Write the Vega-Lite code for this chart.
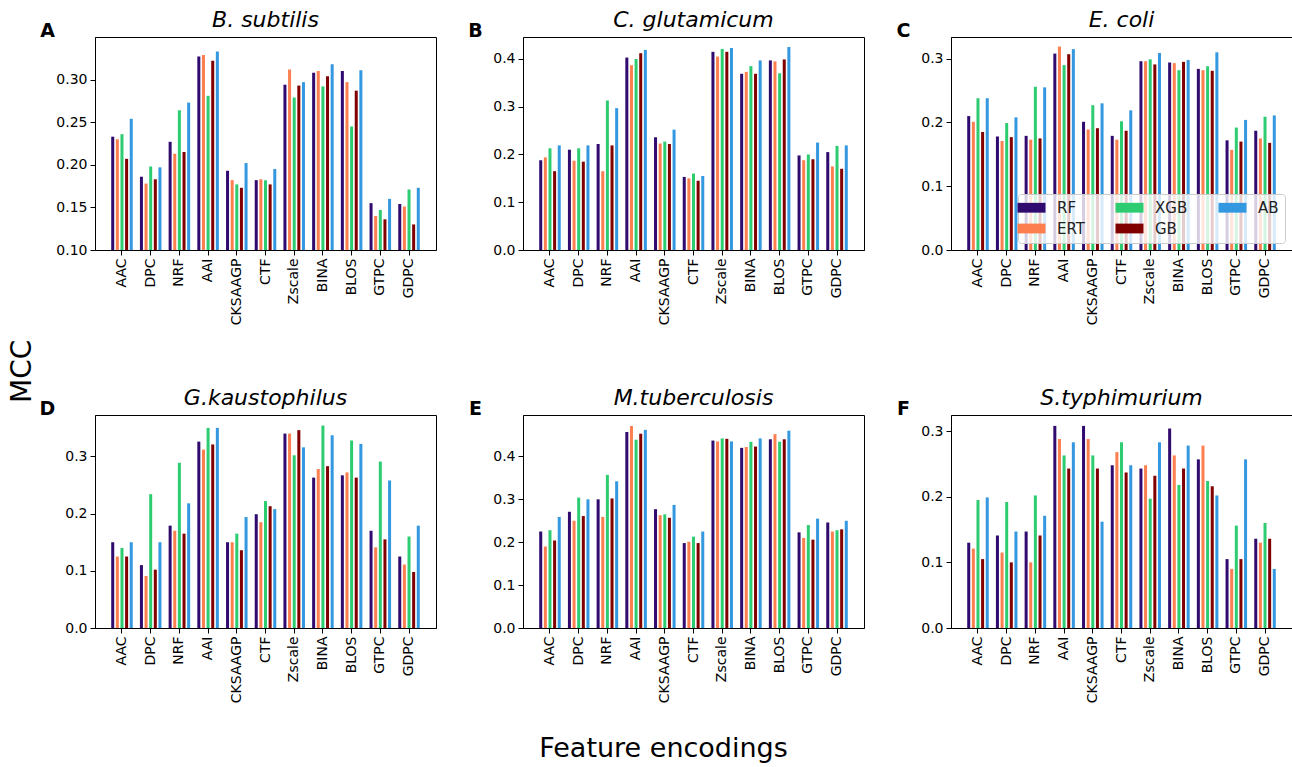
{
"$schema":"https://vega.github.io/schema/vega-lite/v6.json",
"padding":{"left":8,"top":8,"right":0,"bottom":4},
"background":"white",
"title":{"text":"MCC","orient":"left","anchor":"middle","fontSize":28,"fontStyle":"normal","fontWeight":"normal","offset":2,"dx":14},
"data":{"values":[
{"org":"A","feat":"AAC","model":"RF","mcc":0.233},{"org":"A","feat":"AAC","model":"ERT","mcc":0.230},{"org":"A","feat":"AAC","model":"XGB","mcc":0.236},{"org":"A","feat":"AAC","model":"GB","mcc":0.207},{"org":"A","feat":"AAC","model":"AB","mcc":0.254},
{"org":"A","feat":"DPC","model":"RF","mcc":0.186},{"org":"A","feat":"DPC","model":"ERT","mcc":0.178},{"org":"A","feat":"DPC","model":"XGB","mcc":0.198},{"org":"A","feat":"DPC","model":"GB","mcc":0.183},{"org":"A","feat":"DPC","model":"AB","mcc":0.197},
{"org":"A","feat":"NRF","model":"RF","mcc":0.227},{"org":"A","feat":"NRF","model":"ERT","mcc":0.213},{"org":"A","feat":"NRF","model":"XGB","mcc":0.264},{"org":"A","feat":"NRF","model":"GB","mcc":0.215},{"org":"A","feat":"NRF","model":"AB","mcc":0.273},
{"org":"A","feat":"AAI","model":"RF","mcc":0.327},{"org":"A","feat":"AAI","model":"ERT","mcc":0.329},{"org":"A","feat":"AAI","model":"XGB","mcc":0.281},{"org":"A","feat":"AAI","model":"GB","mcc":0.322},{"org":"A","feat":"AAI","model":"AB","mcc":0.333},
{"org":"A","feat":"CKSAAGP","model":"RF","mcc":0.193},{"org":"A","feat":"CKSAAGP","model":"ERT","mcc":0.182},{"org":"A","feat":"CKSAAGP","model":"XGB","mcc":0.177},{"org":"A","feat":"CKSAAGP","model":"GB","mcc":0.173},{"org":"A","feat":"CKSAAGP","model":"AB","mcc":0.202},
{"org":"A","feat":"CTF","model":"RF","mcc":0.182},{"org":"A","feat":"CTF","model":"ERT","mcc":0.183},{"org":"A","feat":"CTF","model":"XGB","mcc":0.182},{"org":"A","feat":"CTF","model":"GB","mcc":0.177},{"org":"A","feat":"CTF","model":"AB","mcc":0.195},
{"org":"A","feat":"Zscale","model":"RF","mcc":0.294},{"org":"A","feat":"Zscale","model":"ERT","mcc":0.312},{"org":"A","feat":"Zscale","model":"XGB","mcc":0.279},{"org":"A","feat":"Zscale","model":"GB","mcc":0.293},{"org":"A","feat":"Zscale","model":"AB","mcc":0.297},
{"org":"A","feat":"BINA","model":"RF","mcc":0.308},{"org":"A","feat":"BINA","model":"ERT","mcc":0.310},{"org":"A","feat":"BINA","model":"XGB","mcc":0.292},{"org":"A","feat":"BINA","model":"GB","mcc":0.304},{"org":"A","feat":"BINA","model":"AB","mcc":0.318},
{"org":"A","feat":"BLOS","model":"RF","mcc":0.310},{"org":"A","feat":"BLOS","model":"ERT","mcc":0.297},{"org":"A","feat":"BLOS","model":"XGB","mcc":0.245},{"org":"A","feat":"BLOS","model":"GB","mcc":0.287},{"org":"A","feat":"BLOS","model":"AB","mcc":0.311},
{"org":"A","feat":"GTPC","model":"RF","mcc":0.155},{"org":"A","feat":"GTPC","model":"ERT","mcc":0.140},{"org":"A","feat":"GTPC","model":"XGB","mcc":0.147},{"org":"A","feat":"GTPC","model":"GB","mcc":0.136},{"org":"A","feat":"GTPC","model":"AB","mcc":0.160},
{"org":"A","feat":"GDPC","model":"RF","mcc":0.154},{"org":"A","feat":"GDPC","model":"ERT","mcc":0.151},{"org":"A","feat":"GDPC","model":"XGB","mcc":0.171},{"org":"A","feat":"GDPC","model":"GB","mcc":0.130},{"org":"A","feat":"GDPC","model":"AB","mcc":0.173},
{"org":"B","feat":"AAC","model":"RF","mcc":0.188},{"org":"B","feat":"AAC","model":"ERT","mcc":0.194},{"org":"B","feat":"AAC","model":"XGB","mcc":0.213},{"org":"B","feat":"AAC","model":"GB","mcc":0.165},{"org":"B","feat":"AAC","model":"AB","mcc":0.219},
{"org":"B","feat":"DPC","model":"RF","mcc":0.210},{"org":"B","feat":"DPC","model":"ERT","mcc":0.187},{"org":"B","feat":"DPC","model":"XGB","mcc":0.213},{"org":"B","feat":"DPC","model":"GB","mcc":0.185},{"org":"B","feat":"DPC","model":"AB","mcc":0.219},
{"org":"B","feat":"NRF","model":"RF","mcc":0.222},{"org":"B","feat":"NRF","model":"ERT","mcc":0.165},{"org":"B","feat":"NRF","model":"XGB","mcc":0.313},{"org":"B","feat":"NRF","model":"GB","mcc":0.219},{"org":"B","feat":"NRF","model":"AB","mcc":0.297},
{"org":"B","feat":"AAI","model":"RF","mcc":0.403},{"org":"B","feat":"AAI","model":"ERT","mcc":0.387},{"org":"B","feat":"AAI","model":"XGB","mcc":0.400},{"org":"B","feat":"AAI","model":"GB","mcc":0.412},{"org":"B","feat":"AAI","model":"AB","mcc":0.419},
{"org":"B","feat":"CKSAAGP","model":"RF","mcc":0.236},{"org":"B","feat":"CKSAAGP","model":"ERT","mcc":0.223},{"org":"B","feat":"CKSAAGP","model":"XGB","mcc":0.227},{"org":"B","feat":"CKSAAGP","model":"GB","mcc":0.222},{"org":"B","feat":"CKSAAGP","model":"AB","mcc":0.252},
{"org":"B","feat":"CTF","model":"RF","mcc":0.153},{"org":"B","feat":"CTF","model":"ERT","mcc":0.150},{"org":"B","feat":"CTF","model":"XGB","mcc":0.160},{"org":"B","feat":"CTF","model":"GB","mcc":0.145},{"org":"B","feat":"CTF","model":"AB","mcc":0.155},
{"org":"B","feat":"Zscale","model":"RF","mcc":0.415},{"org":"B","feat":"Zscale","model":"ERT","mcc":0.405},{"org":"B","feat":"Zscale","model":"XGB","mcc":0.421},{"org":"B","feat":"Zscale","model":"GB","mcc":0.415},{"org":"B","feat":"Zscale","model":"AB","mcc":0.423},
{"org":"B","feat":"BINA","model":"RF","mcc":0.369},{"org":"B","feat":"BINA","model":"ERT","mcc":0.373},{"org":"B","feat":"BINA","model":"XGB","mcc":0.385},{"org":"B","feat":"BINA","model":"GB","mcc":0.369},{"org":"B","feat":"BINA","model":"AB","mcc":0.397},
{"org":"B","feat":"BLOS","model":"RF","mcc":0.397},{"org":"B","feat":"BLOS","model":"ERT","mcc":0.395},{"org":"B","feat":"BLOS","model":"XGB","mcc":0.370},{"org":"B","feat":"BLOS","model":"GB","mcc":0.399},{"org":"B","feat":"BLOS","model":"AB","mcc":0.425},
{"org":"B","feat":"GTPC","model":"RF","mcc":0.198},{"org":"B","feat":"GTPC","model":"ERT","mcc":0.188},{"org":"B","feat":"GTPC","model":"XGB","mcc":0.200},{"org":"B","feat":"GTPC","model":"GB","mcc":0.190},{"org":"B","feat":"GTPC","model":"AB","mcc":0.225},
{"org":"B","feat":"GDPC","model":"RF","mcc":0.205},{"org":"B","feat":"GDPC","model":"ERT","mcc":0.175},{"org":"B","feat":"GDPC","model":"XGB","mcc":0.218},{"org":"B","feat":"GDPC","model":"GB","mcc":0.170},{"org":"B","feat":"GDPC","model":"AB","mcc":0.219},
{"org":"C","feat":"AAC","model":"RF","mcc":0.210},{"org":"C","feat":"AAC","model":"ERT","mcc":0.201},{"org":"C","feat":"AAC","model":"XGB","mcc":0.238},{"org":"C","feat":"AAC","model":"GB","mcc":0.185},{"org":"C","feat":"AAC","model":"AB","mcc":0.238},
{"org":"C","feat":"DPC","model":"RF","mcc":0.178},{"org":"C","feat":"DPC","model":"ERT","mcc":0.171},{"org":"C","feat":"DPC","model":"XGB","mcc":0.199},{"org":"C","feat":"DPC","model":"GB","mcc":0.177},{"org":"C","feat":"DPC","model":"AB","mcc":0.208},
{"org":"C","feat":"NRF","model":"RF","mcc":0.179},{"org":"C","feat":"NRF","model":"ERT","mcc":0.173},{"org":"C","feat":"NRF","model":"XGB","mcc":0.256},{"org":"C","feat":"NRF","model":"GB","mcc":0.175},{"org":"C","feat":"NRF","model":"AB","mcc":0.255},
{"org":"C","feat":"AAI","model":"RF","mcc":0.308},{"org":"C","feat":"AAI","model":"ERT","mcc":0.319},{"org":"C","feat":"AAI","model":"XGB","mcc":0.290},{"org":"C","feat":"AAI","model":"GB","mcc":0.307},{"org":"C","feat":"AAI","model":"AB","mcc":0.315},
{"org":"C","feat":"CKSAAGP","model":"RF","mcc":0.201},{"org":"C","feat":"CKSAAGP","model":"ERT","mcc":0.189},{"org":"C","feat":"CKSAAGP","model":"XGB","mcc":0.227},{"org":"C","feat":"CKSAAGP","model":"GB","mcc":0.191},{"org":"C","feat":"CKSAAGP","model":"AB","mcc":0.230},
{"org":"C","feat":"CTF","model":"RF","mcc":0.179},{"org":"C","feat":"CTF","model":"ERT","mcc":0.173},{"org":"C","feat":"CTF","model":"XGB","mcc":0.202},{"org":"C","feat":"CTF","model":"GB","mcc":0.187},{"org":"C","feat":"CTF","model":"AB","mcc":0.219},
{"org":"C","feat":"Zscale","model":"RF","mcc":0.296},{"org":"C","feat":"Zscale","model":"ERT","mcc":0.296},{"org":"C","feat":"Zscale","model":"XGB","mcc":0.299},{"org":"C","feat":"Zscale","model":"GB","mcc":0.291},{"org":"C","feat":"Zscale","model":"AB","mcc":0.309},
{"org":"C","feat":"BINA","model":"RF","mcc":0.294},{"org":"C","feat":"BINA","model":"ERT","mcc":0.293},{"org":"C","feat":"BINA","model":"XGB","mcc":0.282},{"org":"C","feat":"BINA","model":"GB","mcc":0.295},{"org":"C","feat":"BINA","model":"AB","mcc":0.298},
{"org":"C","feat":"BLOS","model":"RF","mcc":0.284},{"org":"C","feat":"BLOS","model":"ERT","mcc":0.282},{"org":"C","feat":"BLOS","model":"XGB","mcc":0.288},{"org":"C","feat":"BLOS","model":"GB","mcc":0.281},{"org":"C","feat":"BLOS","model":"AB","mcc":0.310},
{"org":"C","feat":"GTPC","model":"RF","mcc":0.172},{"org":"C","feat":"GTPC","model":"ERT","mcc":0.157},{"org":"C","feat":"GTPC","model":"XGB","mcc":0.192},{"org":"C","feat":"GTPC","model":"GB","mcc":0.170},{"org":"C","feat":"GTPC","model":"AB","mcc":0.204},
{"org":"C","feat":"GDPC","model":"RF","mcc":0.187},{"org":"C","feat":"GDPC","model":"ERT","mcc":0.175},{"org":"C","feat":"GDPC","model":"XGB","mcc":0.209},{"org":"C","feat":"GDPC","model":"GB","mcc":0.168},{"org":"C","feat":"GDPC","model":"AB","mcc":0.211},
{"org":"D","feat":"AAC","model":"RF","mcc":0.150},{"org":"D","feat":"AAC","model":"ERT","mcc":0.125},{"org":"D","feat":"AAC","model":"XGB","mcc":0.140},{"org":"D","feat":"AAC","model":"GB","mcc":0.125},{"org":"D","feat":"AAC","model":"AB","mcc":0.150},
{"org":"D","feat":"DPC","model":"RF","mcc":0.110},{"org":"D","feat":"DPC","model":"ERT","mcc":0.091},{"org":"D","feat":"DPC","model":"XGB","mcc":0.234},{"org":"D","feat":"DPC","model":"GB","mcc":0.102},{"org":"D","feat":"DPC","model":"AB","mcc":0.150},
{"org":"D","feat":"NRF","model":"RF","mcc":0.179},{"org":"D","feat":"NRF","model":"ERT","mcc":0.170},{"org":"D","feat":"NRF","model":"XGB","mcc":0.289},{"org":"D","feat":"NRF","model":"GB","mcc":0.165},{"org":"D","feat":"NRF","model":"AB","mcc":0.218},
{"org":"D","feat":"AAI","model":"RF","mcc":0.326},{"org":"D","feat":"AAI","model":"ERT","mcc":0.312},{"org":"D","feat":"AAI","model":"XGB","mcc":0.350},{"org":"D","feat":"AAI","model":"GB","mcc":0.321},{"org":"D","feat":"AAI","model":"AB","mcc":0.350},
{"org":"D","feat":"CKSAAGP","model":"RF","mcc":0.150},{"org":"D","feat":"CKSAAGP","model":"ERT","mcc":0.150},{"org":"D","feat":"CKSAAGP","model":"XGB","mcc":0.165},{"org":"D","feat":"CKSAAGP","model":"GB","mcc":0.136},{"org":"D","feat":"CKSAAGP","model":"AB","mcc":0.194},
{"org":"D","feat":"CTF","model":"RF","mcc":0.199},{"org":"D","feat":"CTF","model":"ERT","mcc":0.185},{"org":"D","feat":"CTF","model":"XGB","mcc":0.222},{"org":"D","feat":"CTF","model":"GB","mcc":0.213},{"org":"D","feat":"CTF","model":"AB","mcc":0.208},
{"org":"D","feat":"Zscale","model":"RF","mcc":0.340},{"org":"D","feat":"Zscale","model":"ERT","mcc":0.340},{"org":"D","feat":"Zscale","model":"XGB","mcc":0.302},{"org":"D","feat":"Zscale","model":"GB","mcc":0.346},{"org":"D","feat":"Zscale","model":"AB","mcc":0.316},
{"org":"D","feat":"BINA","model":"RF","mcc":0.263},{"org":"D","feat":"BINA","model":"ERT","mcc":0.278},{"org":"D","feat":"BINA","model":"XGB","mcc":0.354},{"org":"D","feat":"BINA","model":"GB","mcc":0.283},{"org":"D","feat":"BINA","model":"AB","mcc":0.337},
{"org":"D","feat":"BLOS","model":"RF","mcc":0.267},{"org":"D","feat":"BLOS","model":"ERT","mcc":0.272},{"org":"D","feat":"BLOS","model":"XGB","mcc":0.328},{"org":"D","feat":"BLOS","model":"GB","mcc":0.263},{"org":"D","feat":"BLOS","model":"AB","mcc":0.322},
{"org":"D","feat":"GTPC","model":"RF","mcc":0.170},{"org":"D","feat":"GTPC","model":"ERT","mcc":0.141},{"org":"D","feat":"GTPC","model":"XGB","mcc":0.291},{"org":"D","feat":"GTPC","model":"GB","mcc":0.155},{"org":"D","feat":"GTPC","model":"AB","mcc":0.258},
{"org":"D","feat":"GDPC","model":"RF","mcc":0.125},{"org":"D","feat":"GDPC","model":"ERT","mcc":0.111},{"org":"D","feat":"GDPC","model":"XGB","mcc":0.160},{"org":"D","feat":"GDPC","model":"GB","mcc":0.098},{"org":"D","feat":"GDPC","model":"AB","mcc":0.179},
{"org":"E","feat":"AAC","model":"RF","mcc":0.225},{"org":"E","feat":"AAC","model":"ERT","mcc":0.190},{"org":"E","feat":"AAC","model":"XGB","mcc":0.228},{"org":"E","feat":"AAC","model":"GB","mcc":0.204},{"org":"E","feat":"AAC","model":"AB","mcc":0.259},
{"org":"E","feat":"DPC","model":"RF","mcc":0.271},{"org":"E","feat":"DPC","model":"ERT","mcc":0.250},{"org":"E","feat":"DPC","model":"XGB","mcc":0.304},{"org":"E","feat":"DPC","model":"GB","mcc":0.261},{"org":"E","feat":"DPC","model":"AB","mcc":0.300},
{"org":"E","feat":"NRF","model":"RF","mcc":0.300},{"org":"E","feat":"NRF","model":"ERT","mcc":0.259},{"org":"E","feat":"NRF","model":"XGB","mcc":0.357},{"org":"E","feat":"NRF","model":"GB","mcc":0.302},{"org":"E","feat":"NRF","model":"AB","mcc":0.342},
{"org":"E","feat":"AAI","model":"RF","mcc":0.457},{"org":"E","feat":"AAI","model":"ERT","mcc":0.471},{"org":"E","feat":"AAI","model":"XGB","mcc":0.439},{"org":"E","feat":"AAI","model":"GB","mcc":0.453},{"org":"E","feat":"AAI","model":"AB","mcc":0.462},
{"org":"E","feat":"CKSAAGP","model":"RF","mcc":0.277},{"org":"E","feat":"CKSAAGP","model":"ERT","mcc":0.263},{"org":"E","feat":"CKSAAGP","model":"XGB","mcc":0.265},{"org":"E","feat":"CKSAAGP","model":"GB","mcc":0.257},{"org":"E","feat":"CKSAAGP","model":"AB","mcc":0.287},
{"org":"E","feat":"CTF","model":"RF","mcc":0.198},{"org":"E","feat":"CTF","model":"ERT","mcc":0.201},{"org":"E","feat":"CTF","model":"XGB","mcc":0.213},{"org":"E","feat":"CTF","model":"GB","mcc":0.198},{"org":"E","feat":"CTF","model":"AB","mcc":0.225},
{"org":"E","feat":"Zscale","model":"RF","mcc":0.437},{"org":"E","feat":"Zscale","model":"ERT","mcc":0.435},{"org":"E","feat":"Zscale","model":"XGB","mcc":0.442},{"org":"E","feat":"Zscale","model":"GB","mcc":0.441},{"org":"E","feat":"Zscale","model":"AB","mcc":0.435},
{"org":"E","feat":"BINA","model":"RF","mcc":0.420},{"org":"E","feat":"BINA","model":"ERT","mcc":0.422},{"org":"E","feat":"BINA","model":"XGB","mcc":0.434},{"org":"E","feat":"BINA","model":"GB","mcc":0.423},{"org":"E","feat":"BINA","model":"AB","mcc":0.442},
{"org":"E","feat":"BLOS","model":"RF","mcc":0.440},{"org":"E","feat":"BLOS","model":"ERT","mcc":0.452},{"org":"E","feat":"BLOS","model":"XGB","mcc":0.434},{"org":"E","feat":"BLOS","model":"GB","mcc":0.440},{"org":"E","feat":"BLOS","model":"AB","mcc":0.460},
{"org":"E","feat":"GTPC","model":"RF","mcc":0.223},{"org":"E","feat":"GTPC","model":"ERT","mcc":0.210},{"org":"E","feat":"GTPC","model":"XGB","mcc":0.240},{"org":"E","feat":"GTPC","model":"GB","mcc":0.206},{"org":"E","feat":"GTPC","model":"AB","mcc":0.255},
{"org":"E","feat":"GDPC","model":"RF","mcc":0.246},{"org":"E","feat":"GDPC","model":"ERT","mcc":0.225},{"org":"E","feat":"GDPC","model":"XGB","mcc":0.228},{"org":"E","feat":"GDPC","model":"GB","mcc":0.230},{"org":"E","feat":"GDPC","model":"AB","mcc":0.250},
{"org":"F","feat":"AAC","model":"RF","mcc":0.130},{"org":"F","feat":"AAC","model":"ERT","mcc":0.121},{"org":"F","feat":"AAC","model":"XGB","mcc":0.195},{"org":"F","feat":"AAC","model":"GB","mcc":0.105},{"org":"F","feat":"AAC","model":"AB","mcc":0.199},
{"org":"F","feat":"DPC","model":"RF","mcc":0.141},{"org":"F","feat":"DPC","model":"ERT","mcc":0.115},{"org":"F","feat":"DPC","model":"XGB","mcc":0.192},{"org":"F","feat":"DPC","model":"GB","mcc":0.100},{"org":"F","feat":"DPC","model":"AB","mcc":0.147},
{"org":"F","feat":"NRF","model":"RF","mcc":0.147},{"org":"F","feat":"NRF","model":"ERT","mcc":0.100},{"org":"F","feat":"NRF","model":"XGB","mcc":0.202},{"org":"F","feat":"NRF","model":"GB","mcc":0.141},{"org":"F","feat":"NRF","model":"AB","mcc":0.171},
{"org":"F","feat":"AAI","model":"RF","mcc":0.308},{"org":"F","feat":"AAI","model":"ERT","mcc":0.288},{"org":"F","feat":"AAI","model":"XGB","mcc":0.263},{"org":"F","feat":"AAI","model":"GB","mcc":0.243},{"org":"F","feat":"AAI","model":"AB","mcc":0.283},
{"org":"F","feat":"CKSAAGP","model":"RF","mcc":0.308},{"org":"F","feat":"CKSAAGP","model":"ERT","mcc":0.288},{"org":"F","feat":"CKSAAGP","model":"XGB","mcc":0.263},{"org":"F","feat":"CKSAAGP","model":"GB","mcc":0.243},{"org":"F","feat":"CKSAAGP","model":"AB","mcc":0.162},
{"org":"F","feat":"CTF","model":"RF","mcc":0.248},{"org":"F","feat":"CTF","model":"ERT","mcc":0.268},{"org":"F","feat":"CTF","model":"XGB","mcc":0.283},{"org":"F","feat":"CTF","model":"GB","mcc":0.237},{"org":"F","feat":"CTF","model":"AB","mcc":0.248},
{"org":"F","feat":"Zscale","model":"RF","mcc":0.243},{"org":"F","feat":"Zscale","model":"ERT","mcc":0.248},{"org":"F","feat":"Zscale","model":"XGB","mcc":0.197},{"org":"F","feat":"Zscale","model":"GB","mcc":0.232},{"org":"F","feat":"Zscale","model":"AB","mcc":0.283},
{"org":"F","feat":"BINA","model":"RF","mcc":0.304},{"org":"F","feat":"BINA","model":"ERT","mcc":0.263},{"org":"F","feat":"BINA","model":"XGB","mcc":0.218},{"org":"F","feat":"BINA","model":"GB","mcc":0.243},{"org":"F","feat":"BINA","model":"AB","mcc":0.278},
{"org":"F","feat":"BLOS","model":"RF","mcc":0.257},{"org":"F","feat":"BLOS","model":"ERT","mcc":0.278},{"org":"F","feat":"BLOS","model":"XGB","mcc":0.224},{"org":"F","feat":"BLOS","model":"GB","mcc":0.216},{"org":"F","feat":"BLOS","model":"AB","mcc":0.202},
{"org":"F","feat":"GTPC","model":"RF","mcc":0.105},{"org":"F","feat":"GTPC","model":"ERT","mcc":0.090},{"org":"F","feat":"GTPC","model":"XGB","mcc":0.156},{"org":"F","feat":"GTPC","model":"GB","mcc":0.105},{"org":"F","feat":"GTPC","model":"AB","mcc":0.257},
{"org":"F","feat":"GDPC","model":"RF","mcc":0.136},{"org":"F","feat":"GDPC","model":"ERT","mcc":0.130},{"org":"F","feat":"GDPC","model":"XGB","mcc":0.160},{"org":"F","feat":"GDPC","model":"GB","mcc":0.136},{"org":"F","feat":"GDPC","model":"AB","mcc":0.090}
]},
"columns":3,
"spacing":{"row":165,"column":87},
"bounds":"flush",
"resolve":{"legend":{"color":"independent"}},
"concat":[
{"width":341,"height":213,"title":"B. subtilis","transform":[{"filter":"datum.org==='A'"}],"mark":{"type":"bar","clip":true},
"encoding":{"x":{"field":"feat","type":"nominal","sort":["AAC","DPC","NRF","AAI","CKSAAGP","CTF","Zscale","BINA","BLOS","GTPC","GDPC"],"scale":{"paddingInner":0.25,"paddingOuter":0.565},"axis":{"title":null}},
"xOffset":{"field":"model","type":"nominal","sort":["RF","ERT","XGB","GB","AB"],"scale":{"paddingInner":0.35,"paddingOuter":0}},
"y":{"field":"mcc","type":"quantitative","scale":{"domain":[0.1,0.35],"nice":false,"zero":false},"axis":{"values":[0.1,0.15,0.2,0.25,0.3],"format":".2f","title":"A"}},
"color":{"field":"model","type":"nominal","scale":{"domain":["RF","ERT","XGB","GB","AB"],"range":["#300a6f","#fd7f4f","#2ecc71","#800000","#3398e0"]},"legend":null}}},
{"width":341,"height":213,"title":"C. glutamicum","transform":[{"filter":"datum.org==='B'"}],"mark":{"type":"bar","clip":true},
"encoding":{"x":{"field":"feat","type":"nominal","sort":["AAC","DPC","NRF","AAI","CKSAAGP","CTF","Zscale","BINA","BLOS","GTPC","GDPC"],"scale":{"paddingInner":0.25,"paddingOuter":0.565},"axis":{"title":null}},
"xOffset":{"field":"model","type":"nominal","sort":["RF","ERT","XGB","GB","AB"],"scale":{"paddingInner":0.35,"paddingOuter":0}},
"y":{"field":"mcc","type":"quantitative","scale":{"domain":[0,0.446],"nice":false},"axis":{"values":[0,0.1,0.2,0.3,0.4],"format":".1f","title":"B"}},
"color":{"field":"model","type":"nominal","scale":{"domain":["RF","ERT","XGB","GB","AB"],"range":["#300a6f","#fd7f4f","#2ecc71","#800000","#3398e0"]},"legend":null}}},
{"width":341,"height":213,"title":"E. coli","transform":[{"filter":"datum.org==='C'"}],"mark":{"type":"bar","clip":true},
"encoding":{"x":{"field":"feat","type":"nominal","sort":["AAC","DPC","NRF","AAI","CKSAAGP","CTF","Zscale","BINA","BLOS","GTPC","GDPC"],"scale":{"paddingInner":0.25,"paddingOuter":0.565},"axis":{"title":null}},
"xOffset":{"field":"model","type":"nominal","sort":["RF","ERT","XGB","GB","AB"],"scale":{"paddingInner":0.35,"paddingOuter":0}},
"y":{"field":"mcc","type":"quantitative","scale":{"domain":[0,0.334],"nice":false},"axis":{"values":[0,0.1,0.2,0.3],"format":".1f","title":"C"}},
"color":{"field":"model","type":"nominal","scale":{"domain":["RF","ERT","XGB","GB","AB"],"range":["#300a6f","#fd7f4f","#2ecc71","#800000","#3398e0"]},
"legend":{"orient":"bottom-right","offset":7,"columns":3,"title":null,"symbolType":"M-2,-0.7H2V0.7H-2Z","symbolSize":196,"symbolStrokeWidth":0,"symbolOpacity":1,"labelFontSize":15,"labelColor":"#222222","labelOffset":18,"fillColor":"rgba(255,255,255,0.8)","strokeColor":"#cccccc","cornerRadius":3,"padding":6,"columnPadding":30,"rowPadding":5}}}},
{"width":341,"height":213,"title":"G.kaustophilus","transform":[{"filter":"datum.org==='D'"}],"mark":{"type":"bar","clip":true},
"encoding":{"x":{"field":"feat","type":"nominal","sort":["AAC","DPC","NRF","AAI","CKSAAGP","CTF","Zscale","BINA","BLOS","GTPC","GDPC"],"scale":{"paddingInner":0.25,"paddingOuter":0.565},"axis":{"title":null}},
"xOffset":{"field":"model","type":"nominal","sort":["RF","ERT","XGB","GB","AB"],"scale":{"paddingInner":0.35,"paddingOuter":0}},
"y":{"field":"mcc","type":"quantitative","scale":{"domain":[0,0.3725],"nice":false},"axis":{"values":[0,0.1,0.2,0.3],"format":".1f","title":"D"}},
"color":{"field":"model","type":"nominal","scale":{"domain":["RF","ERT","XGB","GB","AB"],"range":["#300a6f","#fd7f4f","#2ecc71","#800000","#3398e0"]},"legend":null}}},
{"width":341,"height":213,"title":"M.tuberculosis","transform":[{"filter":"datum.org==='E'"}],"mark":{"type":"bar","clip":true},
"encoding":{"x":{"field":"feat","type":"nominal","sort":["AAC","DPC","NRF","AAI","CKSAAGP","CTF","Zscale","BINA","BLOS","GTPC","GDPC"],"scale":{"paddingInner":0.25,"paddingOuter":0.565},"axis":{"title":"Feature encodings","titleFontSize":27,"titleFontWeight":"normal","titlePadding":33,"titleX":140}},
"xOffset":{"field":"model","type":"nominal","sort":["RF","ERT","XGB","GB","AB"],"scale":{"paddingInner":0.35,"paddingOuter":0}},
"y":{"field":"mcc","type":"quantitative","scale":{"domain":[0,0.4966],"nice":false},"axis":{"values":[0,0.1,0.2,0.3,0.4],"format":".1f","title":"E"}},
"color":{"field":"model","type":"nominal","scale":{"domain":["RF","ERT","XGB","GB","AB"],"range":["#300a6f","#fd7f4f","#2ecc71","#800000","#3398e0"]},"legend":null}}},
{"width":341,"height":213,"title":"S.typhimurium","transform":[{"filter":"datum.org==='F'"}],"mark":{"type":"bar","clip":true},
"encoding":{"x":{"field":"feat","type":"nominal","sort":["AAC","DPC","NRF","AAI","CKSAAGP","CTF","Zscale","BINA","BLOS","GTPC","GDPC"],"scale":{"paddingInner":0.25,"paddingOuter":0.565},"axis":{"title":null}},
"xOffset":{"field":"model","type":"nominal","sort":["RF","ERT","XGB","GB","AB"],"scale":{"paddingInner":0.35,"paddingOuter":0}},
"y":{"field":"mcc","type":"quantitative","scale":{"domain":[0,0.3246],"nice":false},"axis":{"values":[0,0.1,0.2,0.3],"format":".1f","title":"F"}},
"color":{"field":"model","type":"nominal","scale":{"domain":["RF","ERT","XGB","GB","AB"],"range":["#300a6f","#fd7f4f","#2ecc71","#800000","#3398e0"]},"legend":null}}}
],
"config":{
"font":"DejaVu Sans",
"view":{"stroke":"black","strokeWidth":1},
"title":{"fontSize":22,"fontStyle":"italic","fontWeight":"normal","color":"black","offset":-11},
"axis":{"grid":false,"domainColor":"black","tickColor":"black","labelColor":"black","labelFontSize":14,"tickSize":5,"labelPadding":3,"titleColor":"black"},
"axisX":{"labelAngle":-90,"labelAlign":"right","labelBaseline":"middle"},
"axisY":{"titleAngle":0,"titleX":-48,"titleY":-16,"titleAlign":"center","titleBaseline":"top","titleFontSize":19,"titleFontWeight":"bold"}
}
}
